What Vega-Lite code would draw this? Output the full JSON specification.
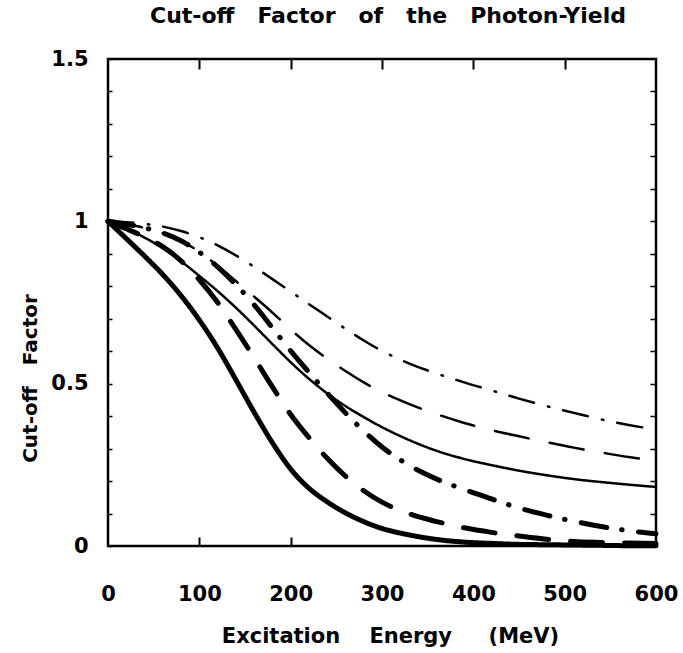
{
  "$schema": "https://vega.github.io/schema/vega-lite/v6.json",
  "width": 548,
  "height": 487,
  "autosize": {"type": "none"},
  "padding": {"left": 108, "top": 59, "right": 27, "bottom": 107},
  "background": "white",
  "title": {
    "text": "Cut-off\u00a0\u00a0\u00a0Factor\u00a0\u00a0\u00a0of\u00a0\u00a0\u00a0the\u00a0\u00a0\u00a0Photon-Yield",
    "font": "DejaVu Sans", "fontSize": 22, "fontWeight": "bold", "color": "black",
    "anchor": "middle", "frame": "group", "baseline": "alphabetic", "offset": 3, "dx": 6
  },
  "config": {
    "font": "DejaVu Sans",
    "view": {"stroke": "black", "strokeWidth": 2.5},
    "axis": {"grid": false, "domain": false}
  },
  "data": {"values": [
    {"curve":"s1","energy":0,"factor":1.0},{"curve":"s1","energy":20,"factor":0.947},{"curve":"s1","energy":40,"factor":0.893},{"curve":"s1","energy":60,"factor":0.836},{"curve":"s1","energy":80,"factor":0.771},{"curve":"s1","energy":100,"factor":0.696},{"curve":"s1","energy":120,"factor":0.61},{"curve":"s1","energy":140,"factor":0.512},{"curve":"s1","energy":160,"factor":0.412},{"curve":"s1","energy":180,"factor":0.318},{"curve":"s1","energy":200,"factor":0.237},{"curve":"s1","energy":220,"factor":0.178},{"curve":"s1","energy":240,"factor":0.136},{"curve":"s1","energy":260,"factor":0.102},{"curve":"s1","energy":280,"factor":0.075},{"curve":"s1","energy":300,"factor":0.054},{"curve":"s1","energy":330,"factor":0.034},{"curve":"s1","energy":360,"factor":0.02},{"curve":"s1","energy":390,"factor":0.012},{"curve":"s1","energy":420,"factor":0.008},{"curve":"s1","energy":450,"factor":0.005},{"curve":"s1","energy":480,"factor":0.004},{"curve":"s1","energy":510,"factor":0.003},{"curve":"s1","energy":540,"factor":0.002},{"curve":"s1","energy":570,"factor":0.001},{"curve":"s1","energy":600,"factor":0.001},
    {"curve":"s2","energy":0,"factor":1.0},{"curve":"s2","energy":20,"factor":0.977},{"curve":"s2","energy":40,"factor":0.952},{"curve":"s2","energy":60,"factor":0.922},{"curve":"s2","energy":80,"factor":0.878},{"curve":"s2","energy":100,"factor":0.82},{"curve":"s2","energy":120,"factor":0.75},{"curve":"s2","energy":140,"factor":0.667},{"curve":"s2","energy":160,"factor":0.58},{"curve":"s2","energy":180,"factor":0.49},{"curve":"s2","energy":200,"factor":0.405},{"curve":"s2","energy":220,"factor":0.334},{"curve":"s2","energy":240,"factor":0.27},{"curve":"s2","energy":260,"factor":0.215},{"curve":"s2","energy":280,"factor":0.17},{"curve":"s2","energy":300,"factor":0.135},{"curve":"s2","energy":330,"factor":0.099},{"curve":"s2","energy":360,"factor":0.075},{"curve":"s2","energy":390,"factor":0.056},{"curve":"s2","energy":420,"factor":0.042},{"curve":"s2","energy":450,"factor":0.031},{"curve":"s2","energy":480,"factor":0.021},{"curve":"s2","energy":510,"factor":0.014},{"curve":"s2","energy":540,"factor":0.011},{"curve":"s2","energy":570,"factor":0.009},{"curve":"s2","energy":600,"factor":0.008},
    {"curve":"s3","energy":0,"factor":1.0},{"curve":"s3","energy":20,"factor":0.978},{"curve":"s3","energy":40,"factor":0.95},{"curve":"s3","energy":60,"factor":0.917},{"curve":"s3","energy":80,"factor":0.877},{"curve":"s3","energy":100,"factor":0.832},{"curve":"s3","energy":120,"factor":0.785},{"curve":"s3","energy":140,"factor":0.734},{"curve":"s3","energy":160,"factor":0.679},{"curve":"s3","energy":180,"factor":0.622},{"curve":"s3","energy":200,"factor":0.566},{"curve":"s3","energy":220,"factor":0.515},{"curve":"s3","energy":240,"factor":0.47},{"curve":"s3","energy":260,"factor":0.431},{"curve":"s3","energy":280,"factor":0.397},{"curve":"s3","energy":300,"factor":0.366},{"curve":"s3","energy":330,"factor":0.326},{"curve":"s3","energy":360,"factor":0.293},{"curve":"s3","energy":390,"factor":0.268},{"curve":"s3","energy":420,"factor":0.249},{"curve":"s3","energy":450,"factor":0.232},{"curve":"s3","energy":480,"factor":0.218},{"curve":"s3","energy":510,"factor":0.206},{"curve":"s3","energy":540,"factor":0.197},{"curve":"s3","energy":570,"factor":0.189},{"curve":"s3","energy":600,"factor":0.182},
    {"curve":"s4","energy":0,"factor":1.0},{"curve":"s4","energy":20,"factor":0.991},{"curve":"s4","energy":40,"factor":0.98},{"curve":"s4","energy":60,"factor":0.964},{"curve":"s4","energy":80,"factor":0.94},{"curve":"s4","energy":100,"factor":0.905},{"curve":"s4","energy":120,"factor":0.86},{"curve":"s4","energy":140,"factor":0.805},{"curve":"s4","energy":160,"factor":0.743},{"curve":"s4","energy":180,"factor":0.672},{"curve":"s4","energy":200,"factor":0.601},{"curve":"s4","energy":220,"factor":0.535},{"curve":"s4","energy":240,"factor":0.471},{"curve":"s4","energy":260,"factor":0.41},{"curve":"s4","energy":280,"factor":0.354},{"curve":"s4","energy":300,"factor":0.305},{"curve":"s4","energy":330,"factor":0.248},{"curve":"s4","energy":360,"factor":0.206},{"curve":"s4","energy":390,"factor":0.174},{"curve":"s4","energy":420,"factor":0.145},{"curve":"s4","energy":450,"factor":0.117},{"curve":"s4","energy":480,"factor":0.095},{"curve":"s4","energy":510,"factor":0.076},{"curve":"s4","energy":540,"factor":0.06},{"curve":"s4","energy":570,"factor":0.047},{"curve":"s4","energy":600,"factor":0.038},
    {"curve":"s5","energy":0,"factor":1.0},{"curve":"s5","energy":20,"factor":0.992},{"curve":"s5","energy":40,"factor":0.98},{"curve":"s5","energy":60,"factor":0.964},{"curve":"s5","energy":80,"factor":0.94},{"curve":"s5","energy":100,"factor":0.906},{"curve":"s5","energy":120,"factor":0.863},{"curve":"s5","energy":140,"factor":0.816},{"curve":"s5","energy":160,"factor":0.768},{"curve":"s5","energy":180,"factor":0.719},{"curve":"s5","energy":200,"factor":0.667},{"curve":"s5","energy":220,"factor":0.619},{"curve":"s5","energy":240,"factor":0.577},{"curve":"s5","energy":260,"factor":0.539},{"curve":"s5","energy":280,"factor":0.504},{"curve":"s5","energy":300,"factor":0.474},{"curve":"s5","energy":330,"factor":0.437},{"curve":"s5","energy":360,"factor":0.406},{"curve":"s5","energy":390,"factor":0.379},{"curve":"s5","energy":420,"factor":0.357},{"curve":"s5","energy":450,"factor":0.338},{"curve":"s5","energy":480,"factor":0.32},{"curve":"s5","energy":510,"factor":0.303},{"curve":"s5","energy":540,"factor":0.288},{"curve":"s5","energy":570,"factor":0.274},{"curve":"s5","energy":600,"factor":0.262},
    {"curve":"s6","energy":0,"factor":1.0},{"curve":"s6","energy":20,"factor":0.997},{"curve":"s6","energy":40,"factor":0.992},{"curve":"s6","energy":60,"factor":0.984},{"curve":"s6","energy":80,"factor":0.97},{"curve":"s6","energy":100,"factor":0.951},{"curve":"s6","energy":120,"factor":0.926},{"curve":"s6","energy":140,"factor":0.895},{"curve":"s6","energy":160,"factor":0.86},{"curve":"s6","energy":180,"factor":0.822},{"curve":"s6","energy":200,"factor":0.784},{"curve":"s6","energy":220,"factor":0.745},{"curve":"s6","energy":240,"factor":0.707},{"curve":"s6","energy":260,"factor":0.669},{"curve":"s6","energy":280,"factor":0.633},{"curve":"s6","energy":300,"factor":0.601},{"curve":"s6","energy":330,"factor":0.562},{"curve":"s6","energy":360,"factor":0.531},{"curve":"s6","energy":390,"factor":0.504},{"curve":"s6","energy":420,"factor":0.479},{"curve":"s6","energy":450,"factor":0.454},{"curve":"s6","energy":480,"factor":0.431},{"curve":"s6","energy":510,"factor":0.41},{"curve":"s6","energy":540,"factor":0.39},{"curve":"s6","energy":570,"factor":0.373},{"curve":"s6","energy":600,"factor":0.358}
  ]},
  "layer": [
    {
      "mark": {"type": "line", "interpolate": "monotone", "strokeCap": "round", "strokeJoin": "round", "color": "black"},
      "encoding": {
        "x": {
          "field": "energy", "type": "quantitative",
          "scale": {"domain": [0, 600], "nice": false, "zero": false},
          "axis": {
            "orient": "bottom",
            "values": [0, 100, 200, 300, 400, 500, 600],
            "format": "d",
            "labelFont": "DejaVu Sans", "labelFontSize": 21, "labelFontWeight": "bold", "labelColor": "black",
            "labelFlush": false, "labelOverlap": false,
            "tickSize": -9, "tickWidth": 2, "tickColor": "black",
            "tickOpacity": {"condition": {"test": "datum.value > 0 && datum.value <= 200", "value": 1}, "value": 0},
            "labelPadding": 46,
            "title": "Excitation\u00a0\u00a0\u00a0\u00a0Energy\u00a0\u00a0\u00a0\u00a0\u00a0(MeV)",
            "titleFont": "DejaVu Sans", "titleFontSize": 21, "titleFontWeight": "bold", "titleColor": "black",
            "titleX": 282, "titleY": 90, "titleAlign": "center", "titleBaseline": "middle", "titleAnchor": null
          }
        },
        "y": {
          "field": "factor", "type": "quantitative",
          "scale": {"domain": [0, 1.5], "nice": false},
          "axis": {
            "orient": "left",
            "values": [0, 0.1, 0.2, 0.3, 0.4, 0.5, 0.6, 0.7, 0.8, 0.9, 1, 1.1, 1.2, 1.3, 1.4, 1.5],
            "labelExpr": "datum.value == 0 ? '0' : datum.value == 0.5 ? '0.5' : datum.value == 1 ? '1' : datum.value == 1.5 ? '1.5' : ''",
            "labelFont": "DejaVu Sans", "labelFontSize": 21, "labelFontWeight": "bold", "labelColor": "black",
            "labelFlush": false, "labelOverlap": false,
            "tickSize": -4, "tickWidth": 1.5, "tickColor": "black",
            "labelPadding": 24,
            "title": "Cut-off\u00a0\u00a0\u00a0Factor",
            "titleFont": "DejaVu Sans", "titleFontSize": 20, "titleFontWeight": "bold", "titleColor": "black",
            "titleX": -78, "titleY": 319, "titleAngle": 270, "titleAlign": "center", "titleBaseline": "middle", "titleAnchor": null
          }
        },
        "strokeDash": {
          "field": "curve", "type": "nominal",
          "scale": {"domain": ["s1", "s2", "s3", "s4", "s5", "s6"],
                    "range": [[1, 0], [32, 22], [1, 0], [26, 15, 0.5, 16.5], [34.5, 21.5], [25.5, 14.5, 1.5, 14]]},
          "legend": null
        },
        "strokeWidth": {
          "field": "curve", "type": "nominal",
          "scale": {"type": "ordinal", "domain": ["s1", "s2", "s3", "s4", "s5", "s6"], "range": [5, 5, 2.5, 5, 2.5, 2.5]},
          "legend": null
        }
      }
    },
    {
      "mark": {"type": "point", "opacity": 0},
      "encoding": {
        "x": {
          "field": "energy", "type": "quantitative",
          "axis": {"orient": "top", "values": [100, 200, 300, 400, 500], "labels": false, "tickSize": -10, "tickWidth": 2, "tickColor": "black", "title": null, "domain": false, "grid": false}
        },
        "y": {
          "field": "factor", "type": "quantitative",
          "axis": {"orient": "right", "values": [0.1, 0.2, 0.3, 0.4, 0.5, 0.6, 0.7, 0.8, 0.9, 1, 1.1, 1.2, 1.3, 1.4], "labels": false, "tickSize": -6, "tickWidth": 1.5, "tickColor": "black", "title": null, "domain": false, "grid": false}
        }
      }
    }
  ]
}
